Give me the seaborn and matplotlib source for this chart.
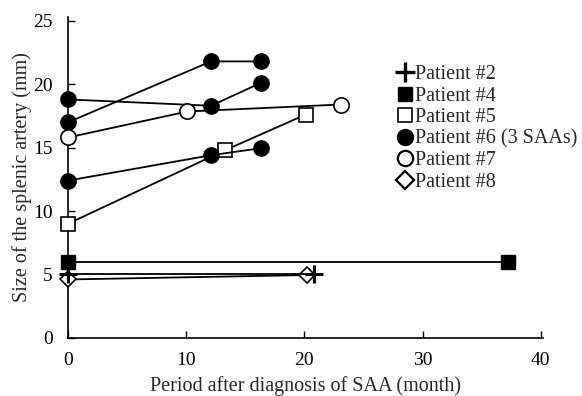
import matplotlib
matplotlib.use("Agg")
import matplotlib.pyplot as plt
from matplotlib.lines import Line2D
import seaborn as sns
import pandas as pd

# Data (months after diagnosis, splenic artery size in mm)
p2_x = [0, 20.8]
p2_y = [5.0, 5.0]
p4_x = [0, 37.2]
p4_y = [5.95, 5.95]
p5_x = [0, 13.3, 20.1]
p5_y = [9.0, 14.8, 17.6]
p6a_x = [0, 12.1, 16.3]
p6a_y = [18.8, 18.3, 20.1]
p6b_x = [0, 12.1, 16.3]
p6b_y = [17.0, 21.8, 21.8]
p6c_x = [0, 12.1, 16.3]
p6c_y = [12.4, 14.4, 14.95]
p7_x = [0, 10.1, 23.1]
p7_y = [15.8, 17.85, 18.4]
p8_x = [0, 20.2]
p8_y = [4.6, 4.95]

legend_labels = ["Patient #2", "Patient #4", "Patient #5",
                 "Patient #6 (3 SAAs)", "Patient #7", "Patient #8"]

sns.set_theme(style="ticks")
plt.rcParams['font.family'] = ['Liberation Serif', 'DejaVu Serif']

fig = plt.figure(figsize=(5.82, 3.96), dpi=100)
ax = fig.add_axes([0.117, 0.147, 0.816, 0.81])

series = [
    (p8_x, p8_y, "D", "white", 8.5, 1.2),
    (p2_x, p2_y, "+", "black", 13, 2.2),
    (p4_x, p4_y, "s", "black", 10, 1.0),
    (p5_x, p5_y, "s", "white", 10, 1.2),
    (p6a_x, p6a_y, "o", "black", 11, 1.0),
    (p6b_x, p6b_y, "o", "black", 11, 1.0),
    (p6c_x, p6c_y, "o", "black", 11, 1.0),
    (p7_x, p7_y, "o", "white", 11, 1.2),
]

for xs, ys, mk, fc, ms, mew in series:
    df = pd.DataFrame({"x": xs, "y": ys})
    sns.lineplot(data=df, x="x", y="y", ax=ax, color="black", lw=1.3,
                 marker=mk, markersize=ms, markerfacecolor=fc,
                 markeredgecolor="black", markeredgewidth=mew,
                 sort=False, estimator=None, clip_on=False, zorder=3)

ax.set_xlim(0, 40.2)
ax.set_ylim(0, 25.3)
ax.set_xticks([0, 10, 20, 30, 40])
ax.set_yticks([0, 5, 10, 15, 20, 25])
ax.tick_params(direction="in", length=5, width=1, labelsize=14, colors="black")
ax.tick_params(axis="y", pad=11)
ax.tick_params(axis="x", pad=10)
for s in ["top", "right"]:
    ax.spines[s].set_visible(False)
for s in ["left", "bottom"]:
    ax.spines[s].set_linewidth(1.2)
    ax.spines[s].set_color("black")

ax.set_xlabel("Period after diagnosis of SAA (month)", fontsize=14.5, labelpad=5)
ax.set_ylabel("Size of the splenic artery (mm)", fontsize=14.5, labelpad=1)

handles = [
    Line2D([], [], ls="none", marker="+", color="black", markersize=14, markeredgewidth=2.4),
    Line2D([], [], ls="none", marker="s", color="black", markersize=10.5),
    Line2D([], [], ls="none", marker="s", markerfacecolor="white", markeredgecolor="black", markersize=10.5, markeredgewidth=1.2),
    Line2D([], [], ls="none", marker="o", color="black", markersize=11.5),
    Line2D([], [], ls="none", marker="o", markerfacecolor="white", markeredgecolor="black", markersize=11, markeredgewidth=1.6),
    Line2D([], [], ls="none", marker="D", markerfacecolor="white", markeredgecolor="black", markersize=9, markeredgewidth=1.6),
]
fig.legend(handles, legend_labels, loc="upper left",
           bbox_to_anchor=(397 / 582, 1 - 65 / 396), frameon=False,
           fontsize=14.5, handlelength=0.8, handletextpad=0.1,
           labelspacing=0.12, borderaxespad=0, borderpad=0)

fig.savefig("out.png", dpi=100)
